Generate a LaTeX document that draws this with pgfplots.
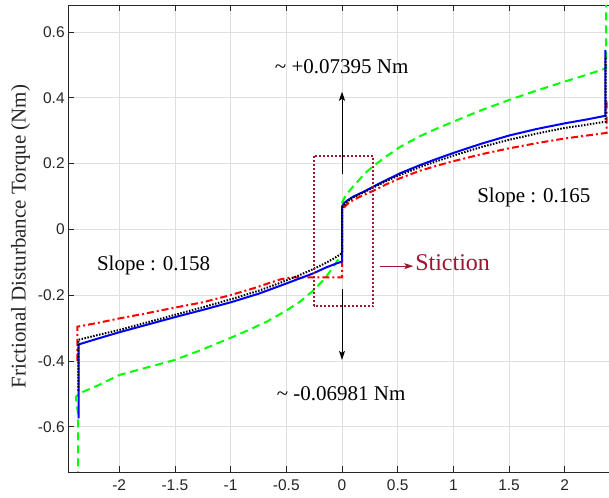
\documentclass[border=0pt]{standalone}
\usepackage{fontspec}
\setmainfont{Liberation Serif}
\newfontfamily\sansfont{Liberation Sans}
\usepackage{pgfplots}
\pgfplotsset{compat=1.18}
\usetikzlibrary{arrows.meta}
\definecolor{stic}{RGB}{162,20,47}
\definecolor{axgray}{RGB}{38,38,38}
\definecolor{gridgray}{RGB}{223,223,223}
\begin{document}
\begin{tikzpicture}
\path[use as bounding box] (-68.2pt,-25.1pt) rectangle (540.8pt,471.9pt);
\begin{axis}[
  scale only axis, width=547.6pt, height=466.2pt,
  at={(0,0)}, anchor=south west,
  xmin=-2.458, xmax=2.458, ymin=-0.7374, ymax=0.6796,
  xtick={-2,-1.5,-1,-0.5,0,0.5,1,1.5,2},
  ytick={-0.6,-0.4,-0.2,0,0.2,0.4,0.6},
  grid=major, major grid style={gridgray, line width=0.6pt},
  axis line style={axgray, line width=0.7pt},
  tick style={axgray, line width=0.7pt}, major tick length=5.5pt, tick align=inside,
  ytick pos=left,
  tick label style={font=\sansfont\fontsize{15.5}{18}\selectfont, text=axgray},
  /pgf/number format/assume math mode=true,
  xticklabel style={yshift=-4pt},
  ylabel={Frictional Disturbance Torque (Nm)},
  ylabel style={font=\fontsize{21}{24}\selectfont, text=axgray, at={(axis description cs:0,0.5)}, anchor=center, xshift=2.3pt, yshift=47.5pt},
]
% green dashed
\addplot[color={rgb,255:red,0;green,255;blue,0}, line width=2pt, dash pattern=on 8pt off 5pt] coordinates {
(-2.37,-0.80) (-2.37,-0.56) (-2.39,-0.51) (-2.36,-0.499) (-2.2,-0.476) (-2.0,-0.443) (-1.75,-0.42) (-1.5,-0.397) (-1.25,-0.365) (-1.0,-0.33) (-0.85,-0.308) (-0.677,-0.281) (-0.5,-0.247) (-0.377,-0.220) (-0.25,-0.184) (-0.15,-0.148) (-0.08,-0.115) (-0.03,-0.090) (0,-0.07)
(0,0.08) (0.02,0.095) (0.05,0.11) (0.1,0.130) (0.2,0.168) (0.28,0.192) (0.4,0.222) (0.52,0.25) (0.7,0.283) (0.85,0.306) (1.0,0.327) (1.25,0.362) (1.5,0.393) (1.75,0.422) (2.0,0.449) (2.2,0.470) (2.37,0.489) (2.37,0.80)
};
% red dash-dot
\addplot[color={rgb,255:red,255;green,0;blue,0}, line width=2pt, dash pattern=on 7pt off 3pt on 2pt off 3pt] coordinates {
(-2.375,-0.40) (-2.375,-0.296) (-2.2,-0.285) (-2.0,-0.271) (-1.75,-0.255) (-1.5,-0.238) (-1.25,-0.222) (-1.0,-0.200) (-0.8,-0.180) (-0.65,-0.163) (-0.55,-0.152) (-0.45,-0.146) (0,-0.146)
(0,0.06) (0.05,0.077) (0.1,0.089) (0.2,0.105) (0.3,0.120) (0.4,0.137) (0.52,0.155) (0.7,0.178) (0.85,0.193) (1.0,0.207) (1.25,0.228) (1.5,0.246) (1.75,0.262) (2.0,0.276) (2.2,0.285) (2.375,0.293) (2.375,0.388)
};
% blue solid
\addplot[color={rgb,255:red,0;green,0;blue,255}, line width=2pt] coordinates {
(-2.365,-0.575) (-2.365,-0.35) (-2.2,-0.333) (-2.0,-0.313) (-1.75,-0.290) (-1.5,-0.267) (-1.25,-0.245) (-1.0,-0.222) (-0.75,-0.196) (-0.557,-0.172) (-0.4,-0.152) (-0.258,-0.134) (-0.15,-0.117) (-0.05,-0.104) (0,-0.098)
(0,0.069) (0.02,0.080) (0.05,0.088) (0.1,0.099) (0.2,0.115) (0.3,0.133) (0.4,0.150) (0.52,0.170) (0.7,0.195) (0.85,0.214) (1.0,0.232) (1.25,0.260) (1.5,0.285) (1.75,0.305) (2.0,0.322) (2.2,0.334) (2.365,0.345) (2.365,0.545)
};
% black dotted
\addplot[black, line width=2pt, dash pattern=on 1.5pt off 1.5pt] coordinates {
(-2.367,-0.49) (-2.367,-0.336) (-2.2,-0.322) (-2.0,-0.306) (-1.75,-0.283) (-1.5,-0.26) (-1.25,-0.237) (-1.0,-0.213) (-0.75,-0.187) (-0.557,-0.163) (-0.4,-0.142) (-0.258,-0.121) (-0.15,-0.103) (-0.07,-0.088) (0,-0.073)
(0,0.065) (0.05,0.085) (0.1,0.097) (0.2,0.113) (0.3,0.130) (0.4,0.147) (0.52,0.165) (0.7,0.189) (0.85,0.207) (1.0,0.224) (1.25,0.250) (1.5,0.272) (1.75,0.291) (2.0,0.308) (2.2,0.318) (2.367,0.327) (2.367,0.52)
};
% stiction box and arrows
\draw[stic, line width=2pt, dash pattern=on 2pt off 2pt] (axis cs:-0.255,-0.233) rectangle (axis cs:0.281,0.224);
\draw[black, line width=0.8pt, -{Stealth[length=9pt,width=6pt,inset=2pt]}] (axis cs:0,0.168) -- (axis cs:0,0.418);
\draw[black, line width=0.8pt, -{Stealth[length=9pt,width=6pt,inset=2pt]}] (axis cs:0,-0.182) -- (axis cs:0,-0.397);
\draw[stic, line width=0.9pt, -{Stealth[length=9pt,width=6pt,inset=2pt]}] (axis cs:0.34,-0.112) -- (axis cs:0.64,-0.112);
\node[anchor=base west, inner sep=0pt, font=\fontsize{21}{24}\selectfont] at (axis cs:-0.604,0.474) {\textasciitilde{} +0.07395 Nm};
\node[anchor=base west, inner sep=0pt, font=\fontsize{21}{24}\selectfont] at (axis cs:-0.587,-0.521) {\textasciitilde{} -0.06981 Nm};
\node[anchor=base west, inner sep=0pt, font=\fontsize{21}{24}\selectfont] at (axis cs:-2.201,-0.124) {Slope : 0.158};
\node[anchor=base west, inner sep=0pt, font=\fontsize{21}{24}\selectfont] at (axis cs:1.213,0.081) {Slope : 0.165};
\node[anchor=base west, inner sep=0pt, text=stic, font=\fontsize{24}{28}\selectfont] at (axis cs:0.656,-0.126) {Stiction};
\end{axis}
\end{tikzpicture}
\end{document}
